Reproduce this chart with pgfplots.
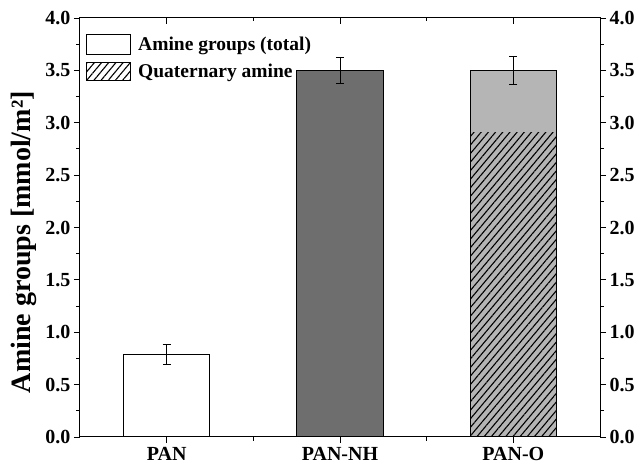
\documentclass[border=0pt]{standalone}
\usepackage{fontspec}
\setmainfont{Liberation Serif}
\usepackage{pgfplots}
\pgfplotsset{compat=1.18}
\usetikzlibrary{patterns.meta}

\definecolor{darkbar}{HTML}{6E6E6E}
\definecolor{lightbar}{HTML}{B5B5B5}
\tikzset{hatch/.style={pattern={Lines[angle=50,distance=5.5bp,line width=1.1bp]},pattern color=black}}

\pgfplotsset{
  base/.style={
    width=520bp, height=419bp, scale only axis,
    xmin=-0.5, xmax=2.5, ymin=0, ymax=4,
    major tick length=6bp, minor tick length=3.5bp,
    tick style={black, line width=0.9bp},
    axis line style={line width=1bp},
    /pgf/number format/assume math mode=true,
    ticklabel style={font=\fontsize{20bp}{22bp}\selectfont\bfseries},
    ytick={0,0.5,...,4}, minor ytick={0.25,0.75,...,3.75},
    yticklabel style={/pgf/number format/.cd, fixed, fixed zerofill, precision=1},
  }
}

\begin{document}
\begin{tikzpicture}
\begin{axis}[base, name=ax,
  ybar, bar width=0.5, bar shift=0pt,
  tick align=outside,
  xtick={0,1,2}, xticklabels={PAN,PAN-NH,PAN-O}, minor xtick={0.5,1.5},
  xtick pos=bottom, ytick pos=left,
  xticklabel style={yshift=-1bp},
  ylabel={Amine groups [mmol/m²]},
  ylabel style={font=\fontsize{28bp}{30bp}\selectfont\bfseries,
    at={(ticklabel cs:0.465)}, yshift=2bp},
  legend style={at={(axis description cs:0,1)}, anchor=north west,
    xshift=3bp, yshift=-14bp,
    draw=none, fill=none, font=\fontsize{19.5bp}{21bp}\selectfont\bfseries,
    cells={anchor=west}, row sep=7bp,
    /tikz/every odd column/.append style={column sep=5bp}},
  error bars/error bar style={black, line width=0.9bp},
  error bars/error mark options={rotate=90, mark size=4bp, line width=0.9bp, black},
]
\addlegendimage{legend image code/.code={\draw[black, line width=1bp, fill=white] (0bp,-10bp) rectangle (44bp,10bp);}}
\addlegendentry{Amine groups (total)}
\addlegendimage{legend image code/.code={\path[hatch] (0bp,-9bp) rectangle (44bp,9bp);}}
\addlegendentry{Quaternary amine}

% PAN
\addplot[forget plot, fill=white, draw=black, line width=1bp,
  error bars/.cd, y dir=both, y explicit]
  coordinates {(0,0.79) +- (0,0.095)};
% PAN-NH
\addplot[forget plot, fill=darkbar, draw=black, line width=1bp,
  error bars/.cd, y dir=both, y explicit]
  coordinates {(1,3.50) +- (0,0.125)};
% PAN-O: total amine groups
\addplot[forget plot, fill=lightbar, draw=none] coordinates {(2,3.50)};
% PAN-O: quaternary amine share
\addplot[forget plot, hatch, draw=none] coordinates {(2,2.91)};
\addplot[forget plot, fill=none, draw=black, line width=1bp,
  error bars/.cd, y dir=both, y explicit]
  coordinates {(2,3.50) +- (0,0.13)};
\end{axis}

% right-hand scale
\begin{axis}[base, axis x line=none, axis y line*=right, tick align=outside]
\addplot[draw=none] coordinates {(0,0)};
\end{axis}

% ticks along the top edge
\begin{axis}[base, axis y line=none, axis x line*=top, tick align=inside,
  xtick={0,1,2}, minor xtick={0.5,1.5}, xticklabels={}]
\addplot[draw=none] coordinates {(0,0)};
\end{axis}

\pgfresetboundingbox
\path (ax.south west) ++(-80bp,-29bp) rectangle ++(641bp,466bp);
\end{tikzpicture}
\end{document}
